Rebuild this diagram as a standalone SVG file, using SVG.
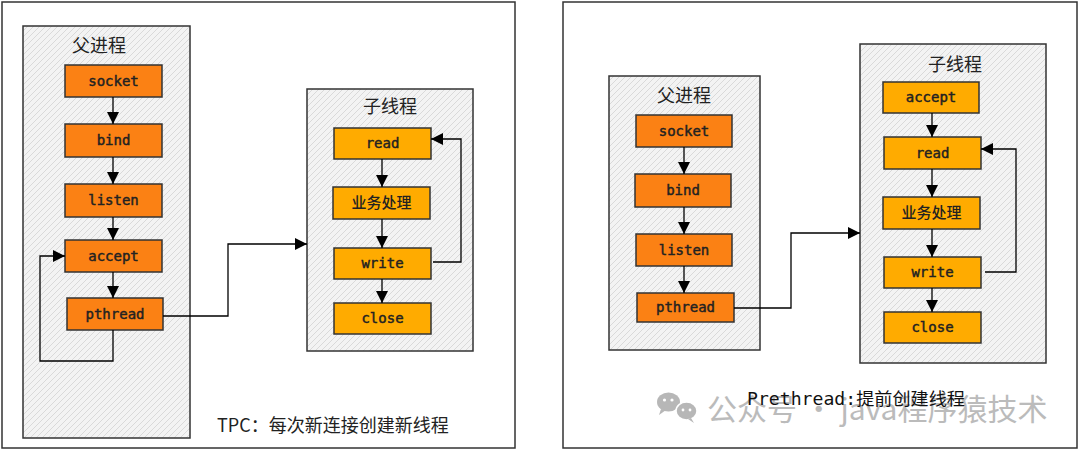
<svg xmlns="http://www.w3.org/2000/svg" width="1080" height="451" viewBox="0 0 1080 451">
<defs>
  <pattern id="hatch" patternUnits="userSpaceOnUse" width="6" height="6">
    <rect width="6" height="6" fill="#f3f3f3"/>
    <path d="M0,6 L6,0 M-1,1 L1,-1 M5,7 L7,5" stroke="#d6d6d6" stroke-width="0.9"/>
  </pattern>
  <marker id="arr" markerUnits="userSpaceOnUse" markerWidth="13" markerHeight="12" refX="12" refY="6" orient="auto">
    <path d="M0,0 L12,6 L0,12 z" fill="#000"/>
  </marker>
</defs>
<style>
  .panel { fill: #ffffff; stroke: #333; stroke-width: 1.5; }
  .group { fill: url(#hatch); stroke: #333; stroke-width: 1.5; }
  .title { font-family: "Noto Sans CJK SC", "Noto Sans", sans-serif; font-size: 18px; fill: #222; text-anchor: middle; }
  .p { fill: #fb8114; stroke: #333; stroke-width: 1.5; }
  .c { fill: #ffab00; stroke: #333; stroke-width: 1.5; }
  .lbl { font-family: "DejaVu Sans Mono", "Liberation Mono", monospace; font-size: 14px; fill: #222; stroke: #222; stroke-width: 0.45; text-anchor: middle; }
  .lblc { font-family: "Noto Sans CJK SC", sans-serif; font-size: 15px; font-weight: 500; fill: #222; text-anchor: middle; }
  .conn { fill: none; stroke: #000; stroke-width: 1.3; }
  .cap { font-family: "Noto Sans CJK SC", "Noto Sans", sans-serif; font-size: 18px; fill: #222; }
  .wm { font-family: "Noto Sans CJK SC", "Noto Sans", sans-serif; font-size: 30px; fill: #b4b4b4; }
</style>

<!-- panels -->
<g id="panel-left"><rect class="panel" x="2" y="2" width="513" height="446"/></g>
<g id="panel-right"><rect class="panel" x="563" y="2" width="514" height="446"/></g>

<!-- left: parent process -->
<g id="left-parent">
  <rect class="group" x="23" y="26" width="167" height="412"/>
  <text class="title" x="99" y="52">父进程</text>
</g>
<g id="l-socket"><rect class="p" x="65" y="65" width="97" height="32"/><text class="lbl" x="113.5" y="86">socket</text></g>
<g id="l-bind"><rect class="p" x="65" y="124" width="97" height="33"/><text class="lbl" x="113.5" y="145">bind</text></g>
<g id="l-listen"><rect class="p" x="65" y="184" width="97" height="33"/><text class="lbl" x="113.5" y="205">listen</text></g>
<g id="l-accept"><rect class="p" x="65" y="240" width="97" height="32"/><text class="lbl" x="113.5" y="261">accept</text></g>
<g id="l-pthread"><rect class="p" x="67" y="298" width="96" height="32"/><text class="lbl" x="115" y="319">pthread</text></g>

<!-- left: child thread -->
<g id="left-child">
  <rect class="group" x="307" y="89" width="166" height="262"/>
  <text class="title" x="390" y="113">子线程</text>
</g>
<g id="l-read"><rect class="c" x="334" y="128" width="97" height="31"/><text class="lbl" x="382.5" y="148">read</text></g>
<g id="l-biz"><rect class="c" x="333" y="187" width="97" height="32"/><text class="lblc" x="381.5" y="208">业务处理</text></g>
<g id="l-write"><rect class="c" x="334" y="248" width="97" height="31"/><text class="lbl" x="382.5" y="268">write</text></g>
<g id="l-close"><rect class="c" x="334" y="303" width="97" height="31"/><text class="lbl" x="382.5" y="323">close</text></g>

<text class="cap" x="217" y="432">TPC：每次新连接创建新线程</text>

<!-- right: parent process -->
<g id="right-parent">
  <rect class="group" x="609" y="76" width="151" height="274"/>
  <text class="title" x="684" y="102">父进程</text>
</g>
<g id="r-socket"><rect class="p" x="636" y="115" width="96" height="32"/><text class="lbl" x="684" y="136">socket</text></g>
<g id="r-bind"><rect class="p" x="635" y="174" width="96" height="33"/><text class="lbl" x="683" y="195">bind</text></g>
<g id="r-listen"><rect class="p" x="636" y="234" width="96" height="32"/><text class="lbl" x="684" y="255">listen</text></g>
<g id="r-pthread"><rect class="p" x="637" y="293" width="97" height="29"/><text class="lbl" x="685.5" y="312">pthread</text></g>

<!-- right: child thread -->
<g id="right-child">
  <rect class="group" x="860" y="44" width="186" height="319"/>
  <text class="title" x="955" y="71">子线程</text>
</g>
<g id="r-accept"><rect class="c" x="883" y="82" width="96" height="31"/><text class="lbl" x="931" y="102">accept</text></g>
<g id="r-read"><rect class="c" x="884" y="137" width="97" height="32"/><text class="lbl" x="932.5" y="158">read</text></g>
<g id="r-biz"><rect class="c" x="883" y="197" width="97" height="32"/><text class="lblc" x="931.5" y="218">业务处理</text></g>
<g id="r-write"><rect class="c" x="884" y="257" width="97" height="31"/><text class="lbl" x="932.5" y="277">write</text></g>
<g id="r-close"><rect class="c" x="884" y="312" width="97" height="31"/><text class="lbl" x="932.5" y="332">close</text></g>

<!-- watermark -->
<g id="watermark" opacity="0.9">
  <ellipse cx="668.5" cy="402" rx="11.5" ry="9.5" fill="#b0b0b0"/>
  <path d="M661,409 L659,415 L666,410 z" fill="#b0b0b0"/>
  <ellipse cx="686.5" cy="411" rx="10.5" ry="9" fill="#b0b0b0" stroke="#fff" stroke-width="1.5"/>
  <path d="M691,418 L694,423 L688,419 z" fill="#b0b0b0"/>
  <circle cx="664.5" cy="400" r="1.6" fill="#fff"/>
  <circle cx="672" cy="400" r="1.6" fill="#fff"/>
  <circle cx="683" cy="410" r="1.4" fill="#fff"/>
  <circle cx="690" cy="410" r="1.4" fill="#fff"/>
  <text class="wm" x="707" y="420">公众号 · java程序猿技术</text>
</g>

<text x="747" y="405" textLength="218" lengthAdjust="spacingAndGlyphs" style="font-family:'DejaVu Sans Mono','Liberation Mono','Noto Sans CJK SC',monospace;font-size:17.5px;fill:#111">Prethread:提前创建线程</text>

<!-- connectors -->
<g id="connectors">
  <path class="conn" d="M113,97 V124" marker-end="url(#arr)"/>
  <path class="conn" d="M113,157 V184" marker-end="url(#arr)"/>
  <path class="conn" d="M113,217 V240" marker-end="url(#arr)"/>
  <path class="conn" d="M113,272 V298" marker-end="url(#arr)"/>
  <path class="conn" d="M113,330 V361 H40 V256 H65" marker-end="url(#arr)"/>
  <path class="conn" d="M163,316 H228 V244 H307" marker-end="url(#arr)"/>
  <path class="conn" d="M382,159 V187" marker-end="url(#arr)"/>
  <path class="conn" d="M382,219 V248" marker-end="url(#arr)"/>
  <path class="conn" d="M382,279 V303" marker-end="url(#arr)"/>
  <path class="conn" d="M433,262 H461 V139 H431" marker-end="url(#arr)"/>

  <path class="conn" d="M684,147 V174" marker-end="url(#arr)"/>
  <path class="conn" d="M684,207 V234" marker-end="url(#arr)"/>
  <path class="conn" d="M684,266 V293" marker-end="url(#arr)"/>
  <path class="conn" d="M734,308 H791 V233 H860" marker-end="url(#arr)"/>
  <path class="conn" d="M932,113 V137" marker-end="url(#arr)"/>
  <path class="conn" d="M932,169 V197" marker-end="url(#arr)"/>
  <path class="conn" d="M932,229 V257" marker-end="url(#arr)"/>
  <path class="conn" d="M932,288 V312" marker-end="url(#arr)"/>
  <path class="conn" d="M985,272 H1016 V149 H981" marker-end="url(#arr)"/>
</g>
</svg>
